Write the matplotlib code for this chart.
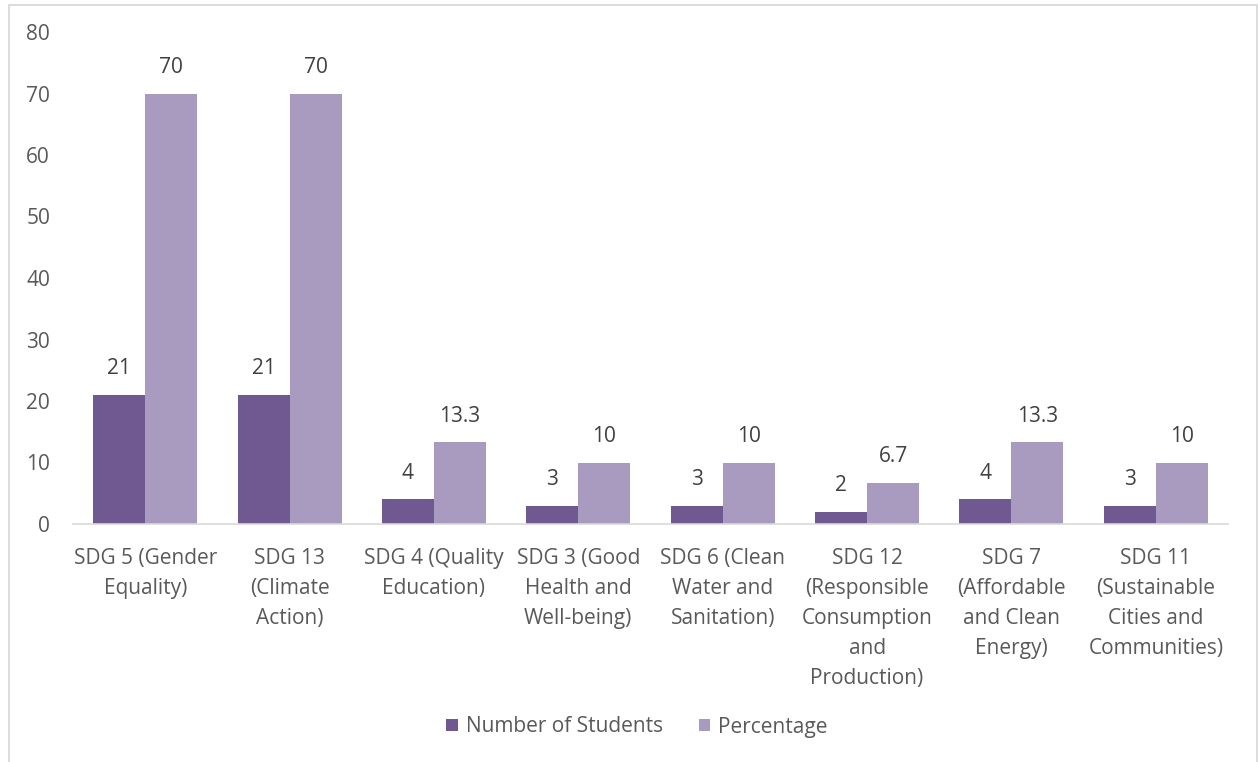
import matplotlib
matplotlib.use("Agg")
import matplotlib.pyplot as plt
from matplotlib.patches import Rectangle
import numpy as np

categories = [
    "SDG 5 (Gender\nEquality)",
    "SDG 13\n(Climate\nAction)",
    "SDG 4 (Quality\nEducation)",
    "SDG 3 (Good\nHealth and\nWell-being)",
    "SDG 6 (Clean\nWater and\nSanitation)",
    "SDG 12\n(Responsible\nConsumption\nand\nProduction)",
    "SDG 7\n(Affordable\nand Clean\nEnergy)",
    "SDG 11\n(Sustainable\nCities and\nCommunities)",
]
students = [21, 21, 4, 3, 3, 2, 4, 3]
percentage = [70, 70, 13.3, 10, 10, 6.7, 13.3, 10]
series_names = ["Number of Students", "Percentage"]
yticks = [0, 10, 20, 30, 40, 50, 60, 70, 80]

dark = "#705890"
light = "#A99BC0"
label_col = "#595959"
value_col = "#404040"
font = "Open Sans"
fs = 15

W, H = 1260, 762
fig = plt.figure(figsize=(W / 100, H / 100), dpi=100)
ax = fig.add_axes([73 / W, 1 - 524 / H, (1228 - 73) / W, (524 - 32) / H])

x = np.arange(len(categories))
bw = 0.36
b1 = ax.bar(x - bw / 2, students, bw, color=dark, label=series_names[0])
b2 = ax.bar(x + bw / 2, percentage, bw, color=light, label=series_names[1])

for bars, vals in ((b1, students), (b2, percentage)):
    for rect, v in zip(bars, vals):
        ax.annotate(f"{v:g}", (rect.get_x() + rect.get_width() / 2, v),
                    xytext=(0, 26), textcoords="offset pixels",
                    ha="center", va="center", fontsize=fs,
                    color=value_col, family=font)

ax.set_xlim(-0.5, len(categories) - 0.5)
ax.set_ylim(0, 80)
ax.set_yticks(yticks)
ax.set_yticklabels([str(t) for t in yticks], family=font, fontsize=fs, color=label_col)
ax.set_xticks(x)
ax.set_xticklabels(categories, family=font, fontsize=fs, color=label_col,
                   va="top", ha="center", linespacing=1.56)
ax.tick_params(axis="both", length=0)
ax.tick_params(axis="y", pad=16.5)
ax.tick_params(axis="x", pad=17.5)

for side in ("top", "right", "left"):
    ax.spines[side].set_visible(False)
ax.spines["bottom"].set_color("#d9d9d9")
ax.spines["bottom"].set_linewidth(1.2)

leg = fig.legend(handles=[b1, b2], labels=series_names, loc="center",
                 bbox_to_anchor=(637 / W, 1 - 727 / H), ncol=2, frameon=False,
                 prop={"family": font, "size": fs}, handlelength=0.55,
                 handleheight=0.55, handletextpad=0.4, columnspacing=1.7)
for t in leg.get_texts():
    t.set_color(label_col)

# outer chart frame
fig.patches.append(Rectangle((8.5 / W, -0.05), (1257 - 8.5) / W, 1.05 - 4.5 / H,
                             transform=fig.transFigure, fill=False,
                             edgecolor="#d9d9d9", linewidth=1.3))

fig.savefig("out.png", dpi=100, facecolor="white")
